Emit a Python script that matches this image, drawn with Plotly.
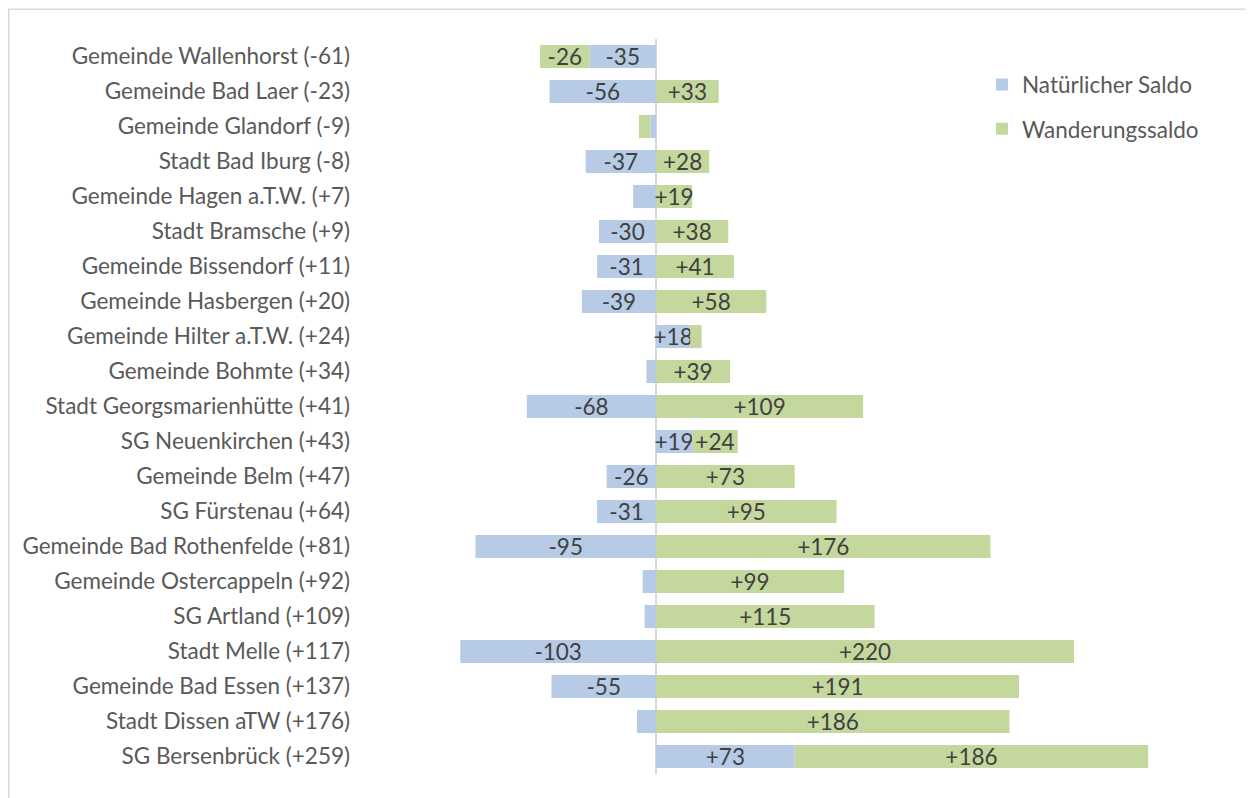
import plotly.graph_objects as go

categories = [
    "Gemeinde Wallenhorst (-61)",
    "Gemeinde Bad Laer (-23)",
    "Gemeinde Glandorf (-9)",
    "Stadt Bad Iburg (-8)",
    "Gemeinde Hagen a.T.W. (+7)",
    "Stadt Bramsche (+9)",
    "Gemeinde Bissendorf (+11)",
    "Gemeinde Hasbergen (+20)",
    "Gemeinde Hilter a.T.W. (+24)",
    "Gemeinde Bohmte (+34)",
    "Stadt Georgsmarienhütte (+41)",
    "SG Neuenkirchen (+43)",
    "Gemeinde Belm (+47)",
    "SG Fürstenau (+64)",
    "Gemeinde Bad Rothenfelde (+81)",
    "Gemeinde Ostercappeln (+92)",
    "SG Artland (+109)",
    "Stadt Melle (+117)",
    "Gemeinde Bad Essen (+137)",
    "Stadt Dissen aTW (+176)",
    "SG Bersenbrück (+259)",
]
natuerlich = [-35, -56, -3, -37, -12, -30, -31, -39, 18, -5, -68, 19, -26, -31, -95, -7, -6, -103, -55, -10, 73]
wanderung = [-26, 33, -6, 28, 19, 38, 41, 58, 6, 39, 109, 24, 73, 95, 176, 99, 115, 220, 191, 186, 186]

def labels(vals):
    return [(f"{v:+d}" if v > 0 else f"{v:d}") if abs(v) >= 15 else "" for v in vals]

FONT = "Lato"
TXT = "#404040"
FS = 22.5

W, H = 1253, 798
L, R, T, B = 362, 71, 30.5, 31.5
PW, PH = W - L - R, H - T - B

fig = go.Figure()
fig.add_trace(go.Bar(
    y=categories, x=natuerlich, orientation="h", name="Natürlicher Saldo",
    marker=dict(color="#b7cbe6", line=dict(width=0)),
    text=labels(natuerlich), textposition="inside", insidetextanchor="middle",
    textfont=dict(family=FONT, size=FS, color=TXT), legendgroup="a",
))
fig.add_trace(go.Bar(
    y=categories, x=wanderung, orientation="h", name="Wanderungssaldo",
    marker=dict(color="#c4d79c", line=dict(width=0)),
    text=labels(wanderung), textposition="inside", insidetextanchor="middle",
    textfont=dict(family=FONT, size=FS, color=TXT), legendgroup="b",
))

fig.update_layout(
    width=W, height=H,
    barmode="relative", bargap=0.34,
    plot_bgcolor="white", paper_bgcolor="white",
    margin=dict(l=L, r=R, t=T, b=B),
    font=dict(family=FONT, size=FS, color="#595959"),
    uniformtext=dict(minsize=FS, mode="show"),
    xaxis=dict(range=[-150.5, 281], showgrid=False, showticklabels=False,
               zeroline=True, zerolinecolor="#d9d9d9", zerolinewidth=2, ticks=""),
    yaxis=dict(autorange="reversed", showgrid=False, ticks="", ticklabelstandoff=19,
               tickfont=dict(family=FONT, size=FS, color="#595959")),
    legend=dict(x=(974 - L) / PW, y=1 - (55 - T) / PH, xanchor="left", yanchor="top",
                traceorder="grouped", tracegroupgap=12,
                font=dict(family=FONT, size=FS, color="#595959"),
                bgcolor="rgba(0,0,0,0)"),
    shapes=[dict(type="rect", xref="paper", yref="paper",
                 x0=(0.75 - L) / PW, x1=(1250 - L) / PW,
                 y0=1 - (800 - T) / PH, y1=1 - (0.75 - T) / PH,
                 line=dict(color="#d9d9d9", width=1.5), fillcolor="rgba(0,0,0,0)", layer="below")],
)

fig.write_html("out.html")
